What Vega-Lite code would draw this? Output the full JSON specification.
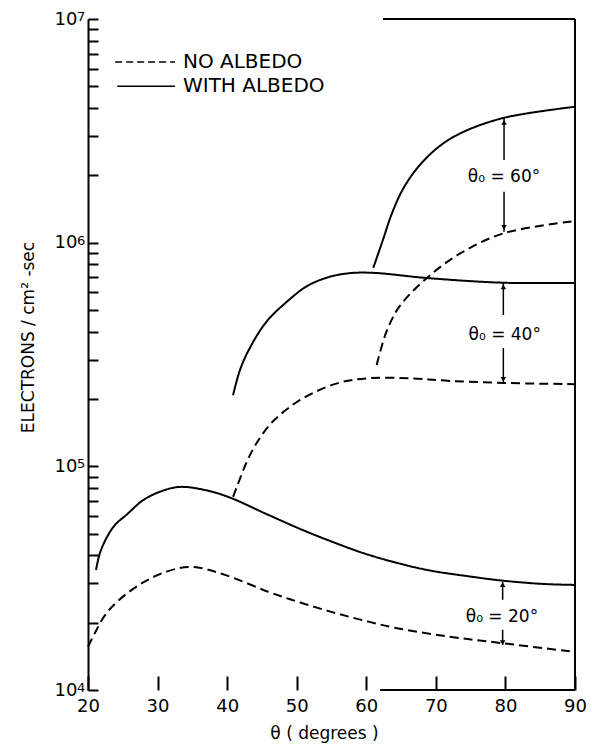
{
  "$schema": "https://vega.github.io/schema/vega-lite/v6.json",
  "width": 487,
  "height": 671,
  "autosize": {"type": "none"},
  "padding": {"left": 88, "top": 19, "right": 17, "bottom": 55},
  "config": {"view": {"stroke": null}, "font": "DejaVu Sans"},
  "encoding": {
    "x": {
      "field": "theta", "type": "quantitative",
      "scale": {"domain": [20, 90], "nice": false, "zero": false},
      "axis": {
        "values": [20, 30, 40, 50, 60, 70, 80, 90],
        "title": "θ ( degrees )",
        "domain": false, "grid": false,
        "tickSize": -14, "tickWidth": 2, "tickColor": "black",
        "labelPadding": 21, "labelFontSize": 18, "labelColor": "black", "labelFont": "DejaVu Sans",
        "labelFlush": false,
        "titleFontSize": 17, "titleFontWeight": "normal", "titleColor": "black", "titleFont": "DejaVu Sans", "titlePadding": 10, "titleX": 236
      }
    },
    "y": {
      "field": "flux", "type": "quantitative",
      "scale": {"type": "log", "domain": [10000, 10000000], "nice": false},
      "axis": {
        "values": [10000, 20000, 30000, 40000, 50000, 60000, 70000, 80000, 90000, 100000, 200000, 300000, 400000, 500000, 600000, 700000, 800000, 900000, 1000000, 2000000, 3000000, 4000000, 5000000, 6000000, 7000000, 8000000, 9000000, 10000000],
        "labelExpr": "(datum.value == 10000 || datum.value == 100000 || datum.value == 1000000 || datum.value == 10000000) ? '10' : ''",
        "title": "ELECTRONS / cm² -sec",
        "grid": false,
        "domainWidth": 2, "domainColor": "black",
        "tickSize": -10, "tickWidth": 2, "tickColor": "black",
        "labelPadding": 21, "labelFontSize": 18, "labelColor": "black", "labelFont": "DejaVu Sans",
        "labelFlush": false, "labelOverlap": false,
        "titleFontSize": 17, "titleFontWeight": "normal", "titleColor": "black", "titleFont": "DejaVu Sans", "titlePadding": 17, "titleY": 318
      }
    }
  },
  "layer": [
    {
      "data": {"values": [
        {"series": "20w", "albedo": "WITH ALBEDO", "theta": 21.15, "flux": 34400},
        {"series": "20w", "albedo": "WITH ALBEDO", "theta": 21.72, "flux": 41000},
        {"series": "20w", "albedo": "WITH ALBEDO", "theta": 22.73, "flux": 48300},
        {"series": "20w", "albedo": "WITH ALBEDO", "theta": 23.88, "flux": 54700},
        {"series": "20w", "albedo": "WITH ALBEDO", "theta": 25.6, "flux": 61000},
        {"series": "20w", "albedo": "WITH ALBEDO", "theta": 27.9, "flux": 70500},
        {"series": "20w", "albedo": "WITH ALBEDO", "theta": 30.35, "flux": 77000},
        {"series": "20w", "albedo": "WITH ALBEDO", "theta": 33.2, "flux": 80900},
        {"series": "20w", "albedo": "WITH ALBEDO", "theta": 37.1, "flux": 78000},
        {"series": "20w", "albedo": "WITH ALBEDO", "theta": 40.4, "flux": 72500},
        {"series": "20w", "albedo": "WITH ALBEDO", "theta": 45.5, "flux": 61500},
        {"series": "20w", "albedo": "WITH ALBEDO", "theta": 50.8, "flux": 52000},
        {"series": "20w", "albedo": "WITH ALBEDO", "theta": 55.5, "flux": 45500},
        {"series": "20w", "albedo": "WITH ALBEDO", "theta": 59.5, "flux": 41000},
        {"series": "20w", "albedo": "WITH ALBEDO", "theta": 64.4, "flux": 37000},
        {"series": "20w", "albedo": "WITH ALBEDO", "theta": 69.2, "flux": 34200},
        {"series": "20w", "albedo": "WITH ALBEDO", "theta": 74.5, "flux": 32300},
        {"series": "20w", "albedo": "WITH ALBEDO", "theta": 79.7, "flux": 30800},
        {"series": "20w", "albedo": "WITH ALBEDO", "theta": 85.4, "flux": 29800},
        {"series": "20w", "albedo": "WITH ALBEDO", "theta": 90, "flux": 29500},

        {"series": "20n", "albedo": "NO ALBEDO", "theta": 20, "flux": 15600},
        {"series": "20n", "albedo": "NO ALBEDO", "theta": 21, "flux": 18000},
        {"series": "20n", "albedo": "NO ALBEDO", "theta": 22.4, "flux": 21500},
        {"series": "20n", "albedo": "NO ALBEDO", "theta": 24.3, "flux": 25000},
        {"series": "20n", "albedo": "NO ALBEDO", "theta": 27.8, "flux": 30100},
        {"series": "20n", "albedo": "NO ALBEDO", "theta": 31.5, "flux": 34000},
        {"series": "20n", "albedo": "NO ALBEDO", "theta": 35, "flux": 35500},
        {"series": "20n", "albedo": "NO ALBEDO", "theta": 39.7, "flux": 32700},
        {"series": "20n", "albedo": "NO ALBEDO", "theta": 45.9, "flux": 27500},
        {"series": "20n", "albedo": "NO ALBEDO", "theta": 50.5, "flux": 24600},
        {"series": "20n", "albedo": "NO ALBEDO", "theta": 55.1, "flux": 22300},
        {"series": "20n", "albedo": "NO ALBEDO", "theta": 59.5, "flux": 20500},
        {"series": "20n", "albedo": "NO ALBEDO", "theta": 64.4, "flux": 18900},
        {"series": "20n", "albedo": "NO ALBEDO", "theta": 72, "flux": 17300},
        {"series": "20n", "albedo": "NO ALBEDO", "theta": 79.5, "flux": 16200},
        {"series": "20n", "albedo": "NO ALBEDO", "theta": 90, "flux": 14800},

        {"series": "40w", "albedo": "WITH ALBEDO", "theta": 40.85, "flux": 208000},
        {"series": "40w", "albedo": "WITH ALBEDO", "theta": 41.85, "flux": 270000},
        {"series": "40w", "albedo": "WITH ALBEDO", "theta": 43.3, "flux": 340000},
        {"series": "40w", "albedo": "WITH ALBEDO", "theta": 45.7, "flux": 445000},
        {"series": "40w", "albedo": "WITH ALBEDO", "theta": 48.6, "flux": 545000},
        {"series": "40w", "albedo": "WITH ALBEDO", "theta": 51.5, "flux": 640000},
        {"series": "40w", "albedo": "WITH ALBEDO", "theta": 54.5, "flux": 700000},
        {"series": "40w", "albedo": "WITH ALBEDO", "theta": 57.5, "flux": 730000},
        {"series": "40w", "albedo": "WITH ALBEDO", "theta": 61, "flux": 733000},
        {"series": "40w", "albedo": "WITH ALBEDO", "theta": 68.7, "flux": 695000},
        {"series": "40w", "albedo": "WITH ALBEDO", "theta": 79.7, "flux": 662000},
        {"series": "40w", "albedo": "WITH ALBEDO", "theta": 90, "flux": 661000},

        {"series": "40n", "albedo": "NO ALBEDO", "theta": 40.85, "flux": 73000},
        {"series": "40n", "albedo": "NO ALBEDO", "theta": 41.4, "flux": 81000},
        {"series": "40n", "albedo": "NO ALBEDO", "theta": 42.9, "flux": 106000},
        {"series": "40n", "albedo": "NO ALBEDO", "theta": 44.3, "flux": 128000},
        {"series": "40n", "albedo": "NO ALBEDO", "theta": 46.6, "flux": 159000},
        {"series": "40n", "albedo": "NO ALBEDO", "theta": 50.5, "flux": 198000},
        {"series": "40n", "albedo": "NO ALBEDO", "theta": 55.8, "flux": 235000},
        {"series": "40n", "albedo": "NO ALBEDO", "theta": 60.5, "flux": 248000},
        {"series": "40n", "albedo": "NO ALBEDO", "theta": 66.7, "flux": 247000},
        {"series": "40n", "albedo": "NO ALBEDO", "theta": 72, "flux": 241000},
        {"series": "40n", "albedo": "NO ALBEDO", "theta": 79.7, "flux": 236000},
        {"series": "40n", "albedo": "NO ALBEDO", "theta": 90, "flux": 233000},

        {"series": "60w", "albedo": "WITH ALBEDO", "theta": 61, "flux": 771000},
        {"series": "60w", "albedo": "WITH ALBEDO", "theta": 62.4, "flux": 1030000},
        {"series": "60w", "albedo": "WITH ALBEDO", "theta": 63.6, "flux": 1330000},
        {"series": "60w", "albedo": "WITH ALBEDO", "theta": 65.2, "flux": 1720000},
        {"series": "60w", "albedo": "WITH ALBEDO", "theta": 67.3, "flux": 2150000},
        {"series": "60w", "albedo": "WITH ALBEDO", "theta": 70.2, "flux": 2650000},
        {"series": "60w", "albedo": "WITH ALBEDO", "theta": 73.5, "flux": 3080000},
        {"series": "60w", "albedo": "WITH ALBEDO", "theta": 79.7, "flux": 3610000},
        {"series": "60w", "albedo": "WITH ALBEDO", "theta": 90, "flux": 4050000},

        {"series": "60n", "albedo": "NO ALBEDO", "theta": 61.5, "flux": 284000},
        {"series": "60n", "albedo": "NO ALBEDO", "theta": 62.9, "flux": 400000},
        {"series": "60n", "albedo": "NO ALBEDO", "theta": 64.8, "flux": 520000},
        {"series": "60n", "albedo": "NO ALBEDO", "theta": 68.7, "flux": 695000},
        {"series": "60n", "albedo": "NO ALBEDO", "theta": 73.5, "flux": 895000},
        {"series": "60n", "albedo": "NO ALBEDO", "theta": 79.7, "flux": 1100000},
        {"series": "60n", "albedo": "NO ALBEDO", "theta": 90, "flux": 1250000}
      ]},
      "mark": {"type": "line", "color": "black", "strokeWidth": 2, "interpolate": "catmull-rom"},
      "encoding": {
        "detail": {"field": "series", "type": "nominal"},
        "strokeDash": {
          "field": "albedo", "type": "nominal",
          "scale": {"domain": ["NO ALBEDO", "WITH ALBEDO"], "range": [[9, 5], [1, 0]]},
          "legend": null
        }
      }
    },
    {
      "data": {"values": [
        {"theta": 62.4, "theta2": 90, "flux": 10000000, "flux2": 10000000},
        {"theta": 90, "theta2": 90, "flux": 10000, "flux2": 10000000},
        {"theta": 62, "theta2": 90, "flux": 10000, "flux2": 10000}
      ]},
      "mark": {"type": "rule", "color": "black", "strokeWidth": 2},
      "encoding": {
        "x2": {"field": "theta2"},
        "y2": {"field": "flux2"}
      }
    },
    {
      "data": {"values": [
        {"theta": 79.8, "flux": 3600000, "flux2": 2340000},
        {"theta": 79.8, "flux": 1690000, "flux2": 1120000},
        {"theta": 79.7, "flux": 660000, "flux2": 475000},
        {"theta": 79.7, "flux": 338000, "flux2": 236000},
        {"theta": 79.6, "flux": 30400, "flux2": 25300},
        {"theta": 79.6, "flux": 18600, "flux2": 15900}
      ]},
      "mark": {"type": "rule", "color": "black", "strokeWidth": 1.5},
      "encoding": {
        "y2": {"field": "flux2"}
      }
    },
    {
      "data": {"values": [
        {"theta": 79.8, "flux": 3450000, "dir": "up"},
        {"theta": 79.8, "flux": 1170000, "dir": "down"},
        {"theta": 79.7, "flux": 635000, "dir": "up"},
        {"theta": 79.7, "flux": 245000, "dir": "down"},
        {"theta": 79.6, "flux": 29600, "dir": "up"},
        {"theta": 79.6, "flux": 16300, "dir": "down"}
      ]},
      "mark": {"type": "point", "filled": true, "color": "black", "size": 30, "opacity": 1},
      "encoding": {
        "shape": {
          "field": "dir", "type": "nominal",
          "scale": {"domain": ["up", "down"], "range": ["triangle-up", "triangle-down"]},
          "legend": null
        }
      }
    },
    {
      "data": {"values": [
        {"theta": 79.8, "flux": 1970000, "label": "θ₀ = 60°"},
        {"theta": 79.9, "flux": 386000, "label": "θ₀ = 40°"},
        {"theta": 79.5, "flux": 21200, "label": "θ₀ = 20°"}
      ]},
      "mark": {"type": "text", "fontSize": 17, "font": "DejaVu Sans", "color": "black", "align": "center", "baseline": "middle"},
      "encoding": {
        "text": {"field": "label", "type": "nominal"}
      }
    },
    {
      "data": {"values": [
        {"theta": 20, "flux": 10000, "label": "4"},
        {"theta": 20, "flux": 100000, "label": "5"},
        {"theta": 20, "flux": 1000000, "label": "6"},
        {"theta": 20, "flux": 10000000, "label": "7"}
      ]},
      "mark": {"type": "text", "fontSize": 13, "font": "DejaVu Sans", "color": "black", "align": "left", "baseline": "top", "dx": -11, "dy": -8},
      "encoding": {
        "text": {"field": "label", "type": "nominal"}
      }
    },
    {
      "data": {"values": [
        {"theta": 23.9, "theta2": 32.5, "flux": 6430000, "flux2": 6430000}
      ]},
      "mark": {"type": "rule", "color": "black", "strokeWidth": 1.5, "strokeDash": [7, 4]},
      "encoding": {
        "x2": {"field": "theta2"},
        "y2": {"field": "flux2"}
      }
    },
    {
      "data": {"values": [
        {"theta": 24.2, "theta2": 32.5, "flux": 5010000, "flux2": 5010000}
      ]},
      "mark": {"type": "rule", "color": "black", "strokeWidth": 1.5},
      "encoding": {
        "x2": {"field": "theta2"},
        "y2": {"field": "flux2"}
      }
    },
    {
      "data": {"values": [
        {"theta": 33.65, "flux": 6430000, "label": "NO ALBEDO"},
        {"theta": 33.65, "flux": 5010000, "label": "WITH ALBEDO"}
      ]},
      "mark": {"type": "text", "fontSize": 20, "font": "DejaVu Sans", "color": "black", "align": "left", "baseline": "middle"},
      "encoding": {
        "text": {"field": "label", "type": "nominal"}
      }
    }
  ]
}
